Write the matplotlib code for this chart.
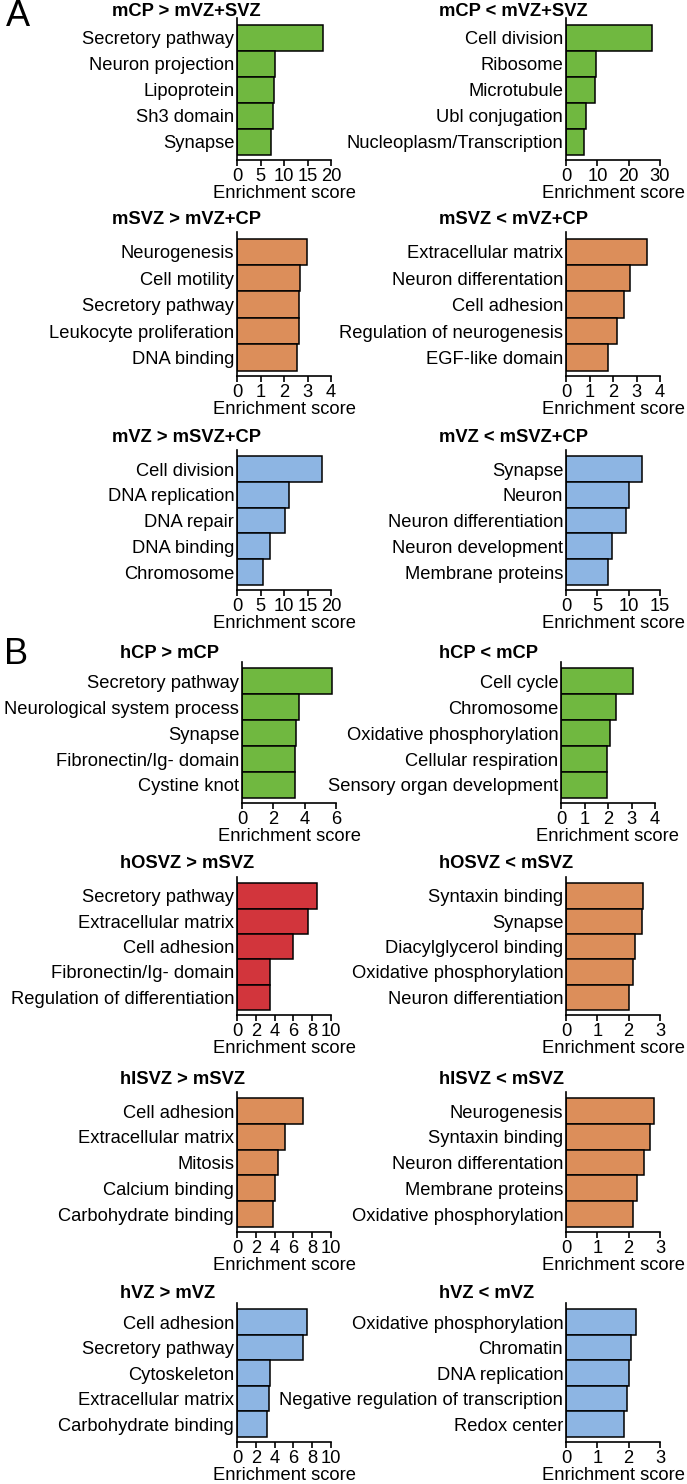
import matplotlib
matplotlib.use("Agg")
import matplotlib.pyplot as plt

plt.rcParams['font.family'] = ['Liberation Sans', 'DejaVu Sans']
plt.rcParams['font.size'] = 13.2

W, H = 687, 1484

green = "#70b840"
orange = "#dc8e5a"
red = "#d2353c"
blue = "#8db5e3"

# ---- panel A ----
mcp_up_terms = ["Secretory pathway", "Neuron projection", "Lipoprotein", "Sh3 domain", "Synapse"]
mcp_up_scores = [18.4, 8.1, 7.8, 7.6, 7.3]

mcp_down_terms = ["Cell division", "Ribosome", "Microtubule", "Ubl conjugation", "Nucleoplasm/Transcription"]
mcp_down_scores = [27.4, 9.5, 9.1, 6.5, 5.9]

msvz_up_terms = ["Neurogenesis", "Cell motility", "Secretory pathway", "Leukocyte proliferation", "DNA binding"]
msvz_up_scores = [2.97, 2.67, 2.65, 2.63, 2.54]

msvz_down_terms = ["Extracellular matrix", "Neuron differentation", "Cell adhesion",
                   "Regulation of neurogenesis", "EGF-like domain"]
msvz_down_scores = [3.45, 2.73, 2.45, 2.15, 1.8]

mvz_up_terms = ["Cell division", "DNA replication", "DNA repair", "DNA binding", "Chromosome"]
mvz_up_scores = [18.1, 11.0, 10.3, 7.0, 5.5]

mvz_down_terms = ["Synapse", "Neuron", "Neuron differentiation", "Neuron development", "Membrane proteins"]
mvz_down_scores = [12.1, 10.1, 9.5, 7.3, 6.7]

# ---- panel B ----
hcp_up_terms = ["Secretory pathway", "Neurological system process", "Synapse",
                "Fibronectin/Ig- domain", "Cystine knot"]
hcp_up_scores = [5.74, 3.64, 3.42, 3.36, 3.36]

hcp_down_terms = ["Cell cycle", "Chromosome", "Oxidative phosphorylation",
                  "Cellular respiration", "Sensory organ development"]
hcp_down_scores = [3.05, 2.36, 2.07, 1.97, 1.97]

hosvz_up_terms = ["Secretory pathway", "Extracellular matrix", "Cell adhesion",
                  "Fibronectin/Ig- domain", "Regulation of differentiation"]
hosvz_up_scores = [8.5, 7.6, 6.0, 3.55, 3.55]

hosvz_down_terms = ["Syntaxin binding", "Synapse", "Diacylglycerol binding",
                    "Oxidative phosphorylation", "Neuron differentiation"]
hosvz_down_scores = [2.47, 2.41, 2.2, 2.14, 2.01]

hisvz_up_terms = ["Cell adhesion", "Extracellular matrix", "Mitosis", "Calcium binding", "Carbohydrate binding"]
hisvz_up_scores = [7.06, 5.14, 4.35, 4.0, 3.83]

hisvz_down_terms = ["Neurogenesis", "Syntaxin binding", "Neuron differentation",
                    "Membrane proteins", "Oxidative phosphorylation"]
hisvz_down_scores = [2.8, 2.69, 2.49, 2.26, 2.14]

hvz_up_terms = ["Cell adhesion", "Secretory pathway", "Cytoskeleton", "Extracellular matrix", "Carbohydrate binding"]
hvz_up_scores = [7.4, 7.0, 3.5, 3.37, 3.2]

hvz_down_terms = ["Oxidative phosphorylation", "Chromatin", "DNA replication",
                  "Negative regulation of transcription", "Redox center"]
hvz_down_scores = [2.22, 2.09, 2.0, 1.95, 1.86]

fig = plt.figure(figsize=(W / 100, H / 100), dpi=100)


def panel(x0, top, bottom, terms, scores, color, xticks, title, title_x, title_y):
    ax = fig.add_axes([x0 / W, 1 - bottom / H, 94 / W, (bottom - top) / H])
    ypos = list(range(len(terms)))
    ax.barh(ypos, scores, height=1.0, color=color, edgecolor="black", linewidth=1.1)
    ax.set_yticks(ypos)
    ax.set_yticklabels(terms)
    ax.set_ylim(4.5 + 0.2, -0.5 - 0.25)
    ax.set_xlim(0, xticks[-1])
    ax.set_xticks(xticks)
    for s in ["top", "right"]:
        ax.spines[s].set_visible(False)
    for s in ["left", "bottom"]:
        ax.spines[s].set_linewidth(1.2)
    ax.tick_params(axis="y", length=0, pad=2)
    ax.tick_params(axis="x", length=4, width=1.2, pad=1.5)
    ax.set_xlabel("Enrichment score", labelpad=0)
    fig.text(title_x / W, 1 - title_y / H, title, fontweight="bold", ha="left", va="center")
    return ax


# rows: (spine top, x axis, title y)
rows = [(18, 160, 12), (232, 376, 220), (450, 590, 437),
        (662, 803, 653), (877, 1015, 863), (1092, 1232, 1079), (1303, 1442, 1293)]

LX, RX = 237, 566

panel(LX, rows[0][0], rows[0][1], mcp_up_terms, mcp_up_scores, green, [0, 5, 10, 15, 20], "mCP > mVZ+SVZ", 112, rows[0][2])
panel(RX, rows[0][0], rows[0][1], mcp_down_terms, mcp_down_scores, green, [0, 10, 20, 30], "mCP < mVZ+SVZ", 439, rows[0][2])
panel(LX, rows[1][0], rows[1][1], msvz_up_terms, msvz_up_scores, orange, [0, 1, 2, 3, 4], "mSVZ > mVZ+CP", 112, rows[1][2])
panel(RX, rows[1][0], rows[1][1], msvz_down_terms, msvz_down_scores, orange, [0, 1, 2, 3, 4], "mSVZ < mVZ+CP", 439, rows[1][2])
panel(LX, rows[2][0], rows[2][1], mvz_up_terms, mvz_up_scores, blue, [0, 5, 10, 15, 20], "mVZ > mSVZ+CP", 112, rows[2][2])
panel(RX, rows[2][0], rows[2][1], mvz_down_terms, mvz_down_scores, blue, [0, 5, 10, 15], "mVZ < mSVZ+CP", 439, rows[2][2])

panel(242, rows[3][0], rows[3][1], hcp_up_terms, hcp_up_scores, green, [0, 2, 4, 6], "hCP > mCP", 120, rows[3][2])
panel(561, rows[3][0], rows[3][1], hcp_down_terms, hcp_down_scores, green, [0, 1, 2, 3, 4], "hCP < mCP", 439, rows[3][2])
panel(LX, rows[4][0], rows[4][1], hosvz_up_terms, hosvz_up_scores, red, [0, 2, 4, 6, 8, 10], "hOSVZ > mSVZ", 120, rows[4][2])
panel(RX, rows[4][0], rows[4][1], hosvz_down_terms, hosvz_down_scores, orange, [0, 1, 2, 3], "hOSVZ < mSVZ", 439, rows[4][2])
panel(LX, rows[5][0], rows[5][1], hisvz_up_terms, hisvz_up_scores, orange, [0, 2, 4, 6, 8, 10], "hISVZ > mSVZ", 120, rows[5][2])
panel(RX, rows[5][0], rows[5][1], hisvz_down_terms, hisvz_down_scores, orange, [0, 1, 2, 3], "hISVZ < mSVZ", 439, rows[5][2])
panel(LX, rows[6][0], rows[6][1], hvz_up_terms, hvz_up_scores, blue, [0, 2, 4, 6, 8, 10], "hVZ > mVZ", 120, rows[6][2])
panel(RX, rows[6][0], rows[6][1], hvz_down_terms, hvz_down_scores, blue, [0, 1, 2, 3], "hVZ < mVZ", 439, rows[6][2])

fig.text(6 / W, 1 - 17 / H, "A", fontsize=26, ha="left", va="center")
fig.text(4 / W, 1 - 655 / H, "B", fontsize=26, ha="left", va="center")

fig.savefig("out.png", dpi=100)
